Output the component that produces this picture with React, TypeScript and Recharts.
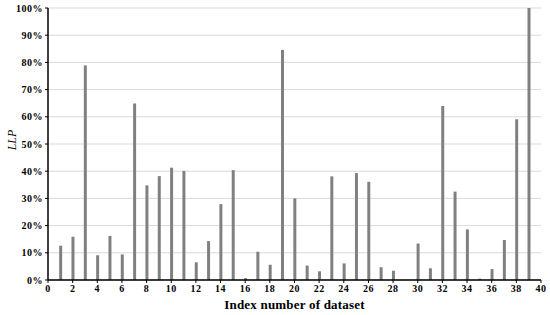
import { BarChart, Bar, XAxis, YAxis, CartesianGrid, Label } from "recharts";

const datasetIndex = [
  1, 2, 3, 4, 5, 6, 7, 8, 9, 10, 11, 12, 13, 14, 15, 16, 17, 18, 19, 20,
  21, 22, 23, 24, 25, 26, 27, 28, 29, 30, 31, 32, 33, 34, 35, 36, 37, 38, 39,
];
const llpValues = [
  12.6, 15.9, 78.9, 9.1, 16.2, 9.4, 64.9, 34.8, 38.2, 41.3, 40.1, 6.5, 14.3, 27.9, 40.4, 0.7, 10.4, 5.6, 84.6, 30.0,
  5.3, 3.2, 38.1, 6.1, 39.3, 36.1, 4.7, 3.4, 0, 13.4, 4.3, 64.0, 32.5, 18.6, 0.5, 4.0, 14.7, 59.1, 100,
];
const xTicks = [0, 2, 4, 6, 8, 10, 12, 14, 16, 18, 20, 22, 24, 26, 28, 30, 32, 34, 36, 38, 40];
const yTicks = [0, 10, 20, 30, 40, 50, 60, 70, 80, 90, 100];

const data = datasetIndex.map((idx, i) => ({ idx, llp: llpValues[i] }));

const FONT = "Liberation Serif";

function XTick(props: any) {
  const { x, y, payload } = props;
  return (
    <text x={x} y={y + 7} textAnchor="middle" fontFamily={FONT} fontWeight={700} fontSize={10} letterSpacing={0.5} fill="#000">
      {payload.value}
    </text>
  );
}

function YTick(props: any) {
  const { x, y, payload } = props;
  return (
    <text x={x} y={y + 3.5} textAnchor="end" fontFamily={FONT} fontWeight={700} fontSize={10} letterSpacing={0.5} fill="#000">
      {`${payload.value}%`}
    </text>
  );
}

function YLabel(props: any) {
  const { viewBox } = props;
  const cx = viewBox.x + 12;
  const cy = viewBox.y + viewBox.height / 2 - 4;
  return (
    <text
      x={cx}
      y={cy}
      transform={`rotate(-90 ${cx} ${cy})`}
      textAnchor="middle"
      dominantBaseline="central"
      fontFamily={FONT}
      fontStyle="italic"
      fontSize={12}
      fill="#000"
    >
      LLP
    </text>
  );
}

export default function App() {
  return (
    <div style={{ position: "absolute", left: 0, top: 0, background: "#fff" }}>
      <BarChart
        width={550}
        height={315}
        data={data}
        margin={{ top: 8, right: 9, left: 0, bottom: 0 }}
        barSize={3}
      >
        <CartesianGrid vertical={false} stroke="#d9d9d9" strokeWidth={1} />
        <XAxis
          dataKey="idx"
          type="number"
          domain={[0, 40]}
          ticks={xTicks}
          interval={0}
          height={35}
          tick={<XTick />}
          tickSize={3}
          tickMargin={2}
          axisLine={{ stroke: "#000", strokeWidth: 1.5 }}
          tickLine={{ stroke: "#000" }}
        >
          <Label
            value="Index number of dataset"
            position="insideBottom"
            offset={6}
            style={{ fill: "#000", fontSize: 13, fontWeight: 700, fontFamily: FONT, letterSpacing: 0.2 }}
          />
        </XAxis>
        <YAxis
          type="number"
          domain={[0, 100]}
          ticks={yTicks}
          interval={0}
          width={48}
          tick={<YTick />}
          tickSize={3}
          tickMargin={2}
          axisLine={{ stroke: "#000", strokeWidth: 1.5 }}
          tickLine={{ stroke: "#000" }}
        >
          <Label content={YLabel} />
        </YAxis>
        <Bar dataKey="llp" fill="#808080" isAnimationActive={false} />
      </BarChart>
    </div>
  );
}
